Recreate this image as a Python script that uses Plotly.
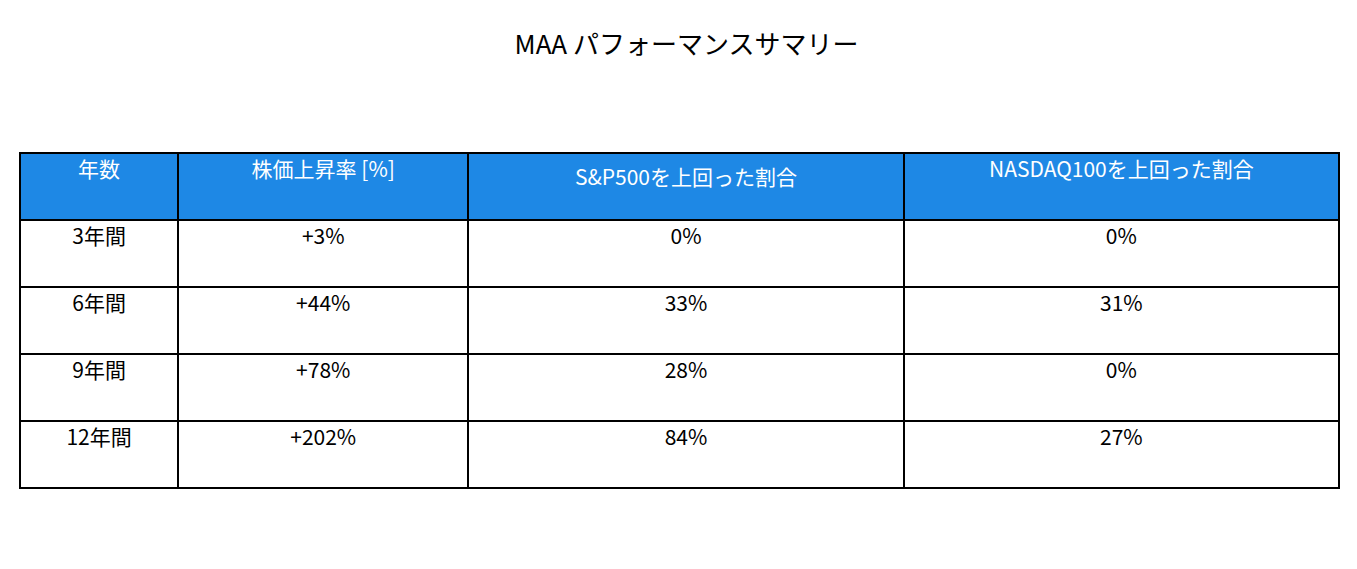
import plotly.graph_objects as go

headers = ["年数", "株価上昇率 [%]", "S&P500を上回った割合", "NASDAQ100を上回った割合"]
periods = ["3年間", "6年間", "9年間", "12年間"]
growth = ["+3%", "+44%", "+78%", "+202%"]
beat_sp = ["0%", "33%", "28%", "84%"]
beat_nq = ["0%", "31%", "0%", "27%"]

W, H = 1357, 569
font = "Noto Sans CJK JP"
fig = go.Figure(go.Table(
    domain=dict(x=[12/W, 1331/W], y=[1-481/H, 1-145/H]),
    columnwidth=[158, 290, 435, 435],
    header=dict(values=headers, fill_color="#1E88E5", height=67,
                line=dict(color="black", width=2), align="center",
                font=dict(color="white", size=21, family=font)),
    cells=dict(values=[periods, growth, beat_sp, beat_nq], fill_color="white", height=67,
               line=dict(color="black", width=2), align="center",
               font=dict(color="black", size=21, family=font)),
))
fig.update_layout(
    width=W, height=H, margin=dict(l=0, r=0, t=0, b=0),
    paper_bgcolor="white",
    title=dict(text="MAA パフォーマンスサマリー", x=0.5, xanchor="center",
               y=1-37/H, yanchor="middle", font=dict(size=26, family=font, color="black")),
)
fig.write_html("out.html")
